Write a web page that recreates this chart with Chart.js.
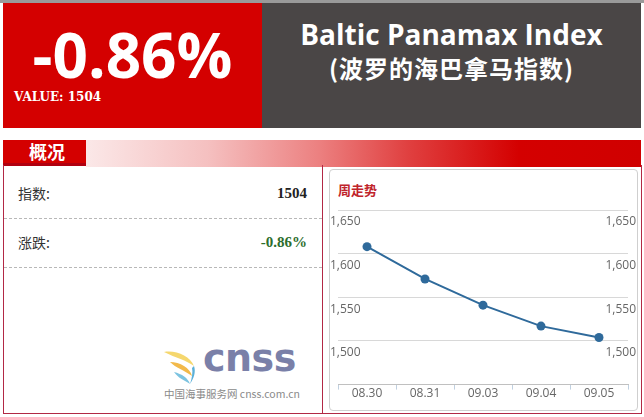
<!DOCTYPE html>
<html lang="zh">
<head>
<meta charset="UTF-8">
<title>Baltic Panamax Index</title>
<script src="https://cdn.jsdelivr.net/npm/chart.js@4.4.1/dist/chart.umd.min.js"></script>
<style>
    * { margin: 0; padding: 0; box-sizing: border-box; }
    body { width: 644px; height: 417px; background: #fff; position: relative; overflow: hidden;
           font-family: 'Noto Sans CJK SC', 'Open Sans', sans-serif; }
    .abs { position: absolute; }
    .topline { left: 0; top: 0; width: 644px; height: 3px; background: #9a9a9a; }
    .redbox { left: 3px; top: 3px; width: 259px; height: 125px; background: #d40000; }
    .change { left: 0; width: 265px; top: 14px; text-align: center; color: #fff;
              font-family: 'Open Sans', sans-serif; font-weight: 700; font-size: 62px; line-height: 80px; }
    .value { left: 14px; top: 90px; color: #fff; font-family: 'DejaVu Serif', serif; font-weight: 700; font-size: 12px; }
    .greybox { left: 262px; top: 3px; width: 379px; height: 125px; background: #4a4646; }
    .title { left: 262px; width: 379px; top: 14px; text-align: center; color: #fff;
             font-family: 'Open Sans', sans-serif; font-weight: 700; font-size: 28px; line-height: 40px; }
    .subtitle { left: 262px; width: 379px; top: 51px; text-align: center; color: #fff;
                font-family: 'Noto Sans CJK SC', sans-serif; font-weight: 700; font-size: 24px; line-height: 34px; letter-spacing: 1px; }
    .band { left: 86px; top: 140px; width: 555px; height: 27px;
            background: linear-gradient(to right, #fbe8e8 0%, #f5c0c0 22%, #ec8080 42%, #e04040 58%, #d40000 78%, #d00000 100%); }
    .tab { left: 3px; top: 140px; width: 83px; height: 23px; background: #d40000; color: #fff;
           font-weight: 700; font-size: 18px; line-height: 23px; padding-left: 26px; }
    .tabline { left: 3px; top: 163px; width: 83px; height: 3px; background: #b00010; }
    .frame { left: 3px; top: 165px; width: 639px; height: 249px; border: 1px solid #b22845; border-top: none; }
    .divider { left: 322px; top: 165px; width: 1px; height: 248px; background: #b22845; }
    .lbl { left: 18px; font-size: 14px; color: #333; line-height: 20px; }
    .num { right: 337px; font-family: 'Liberation Serif', serif; font-weight: 700; font-size: 15px; line-height: 20px; color: #222; }
    .dash { left: 4px; width: 318px; height: 0; border-top: 1px dashed #b8b8b8; }
    .panel { left: 329px; top: 169px; width: 309px; height: 242px; border: 1px solid #cfcfcf; border-radius: 4px; }
    .ctitle { left: 338px; top: 181px; color: #c0242b; font-size: 13px; font-weight: 700; line-height: 18px; }
    .chartbox { left: 329px; top: 169px; width: 309px; height: 242px; }
    .logo { left: 203px; top: 336px; color: #7a80a8; font-family: 'DejaVu Sans', sans-serif; font-weight: 700;
            font-size: 38px; line-height: 44px; letter-spacing: -0.5px; }
    .logosub { left: 164px; top: 387px; color: #8a8a8a; font-size: 10.5px; line-height: 14px; white-space: nowrap; }
</style>
</head>
<body>
    <div class="abs topline"></div>
    <div class="abs redbox"></div>
    <div class="abs change">-0.86%</div>
    <div class="abs value">VALUE: 1504</div>
    <div class="abs greybox"></div>
    <div class="abs title">Baltic Panamax Index</div>
    <div class="abs subtitle">(波罗的海巴拿马指数)</div>

    <div class="abs band"></div>
    <div class="abs tab">概况</div>
    <div class="abs tabline"></div>
    <div class="abs frame"></div>
    <div class="abs divider"></div>

    <div class="abs lbl" style="top:183px">指数:</div>
    <div class="abs num" style="top:183px">1504</div>
    <div class="abs dash" style="top:218px"></div>
    <div class="abs lbl" style="top:232px">涨跌:</div>
    <div class="abs num" style="top:232px; color:#2d6e2d">-0.86%</div>
    <div class="abs dash" style="top:267px"></div>

    <svg class="abs" style="left:160px; top:348px" width="42" height="38" viewBox="0 0 42 38">
        <path d="M4 4 C16 2 30 8 34 18 C26 12 16 10 4 4 Z" fill="#f5d76e"/>
        <path d="M10 14 C20 14 30 20 32 28 C24 22 16 20 10 14 Z" fill="#f2b94a"/>
        <path d="M14 24 C22 26 28 30 30 36 C24 32 18 30 14 24 Z" fill="#7cc3e0"/>
        <path d="M34 18 C36 24 34 30 30 36 C32 30 33 24 32 20 Z" fill="#5bb0d8"/>
    </svg>
    <div class="abs logo">cnss</div>
    <div class="abs logosub">中国海事服务网 cnss.com.cn</div>

    <div class="abs panel"></div>
    <div class="abs ctitle">周走势</div>
    <div class="abs chartbox"><canvas id="trend"></canvas></div>

    <script>
        const dates = ['08.30', '08.31', '09.03', '09.04', '09.05'];
        const indexValues = [1608, 1571, 1541, 1517, 1504];
        const yMin = 1450;
        const yMax = 1650;
        const yStep = 50;

        // tick labels sit under each grid line, on both sides
        const sideLabels = {
            id: 'sideLabels',
            afterDraw(chart) {
                const y = chart.scales.y;
                const ctx = chart.ctx;
                ctx.save();
                ctx.font = '12px "Open Sans", sans-serif';
                ctx.fillStyle = '#666';
                ctx.textBaseline = 'middle';
                y.ticks.forEach(t => {
                    if (t.value <= yMin) return;
                    const py = y.getPixelForValue(t.value) + 12;
                    ctx.textAlign = 'left';
                    ctx.fillText(t.label, 1, py);
                    ctx.textAlign = 'right';
                    ctx.fillText(t.label, chart.width - 2, py);
                });
                ctx.restore();
            }
        };

        new Chart(document.getElementById('trend'), {
            type: 'line',
            data: {
                labels: dates,
                datasets: [{
                    data: indexValues,
                    borderColor: '#2f6a9b',
                    backgroundColor: '#2f6a9b',
                    borderWidth: 2,
                    tension: 0,
                    pointRadius: 4.5,
                    pointBorderWidth: 0,
                    fill: false
                }]
            },
            options: {
                responsive: true,
                maintainAspectRatio: false,
                animation: false,
                layout: { padding: { left: 9, right: 10, top: 41, bottom: 13 } },
                plugins: { legend: { display: false }, tooltip: { enabled: false } },
                scales: {
                    x: {
                        offset: true,
                        grid: { offset: true, drawOnChartArea: false, tickLength: 5, color: '#c0d0e0' },
                        border: { color: '#c0c0c0' },
                        ticks: { color: '#666', padding: -3, font: { family: 'Open Sans', size: 12 } }
                    },
                    y: {
                        min: yMin,
                        max: yMax,
                        ticks: { stepSize: yStep, display: false },
                        grid: { drawTicks: false, color: c => c.tick.value <= yMin ? 'rgba(0,0,0,0)' : '#d8d8d8' },
                        border: { display: false }
                    }
                }
            },
            plugins: [sideLabels]
        });
    </script>
</body>
</html>
